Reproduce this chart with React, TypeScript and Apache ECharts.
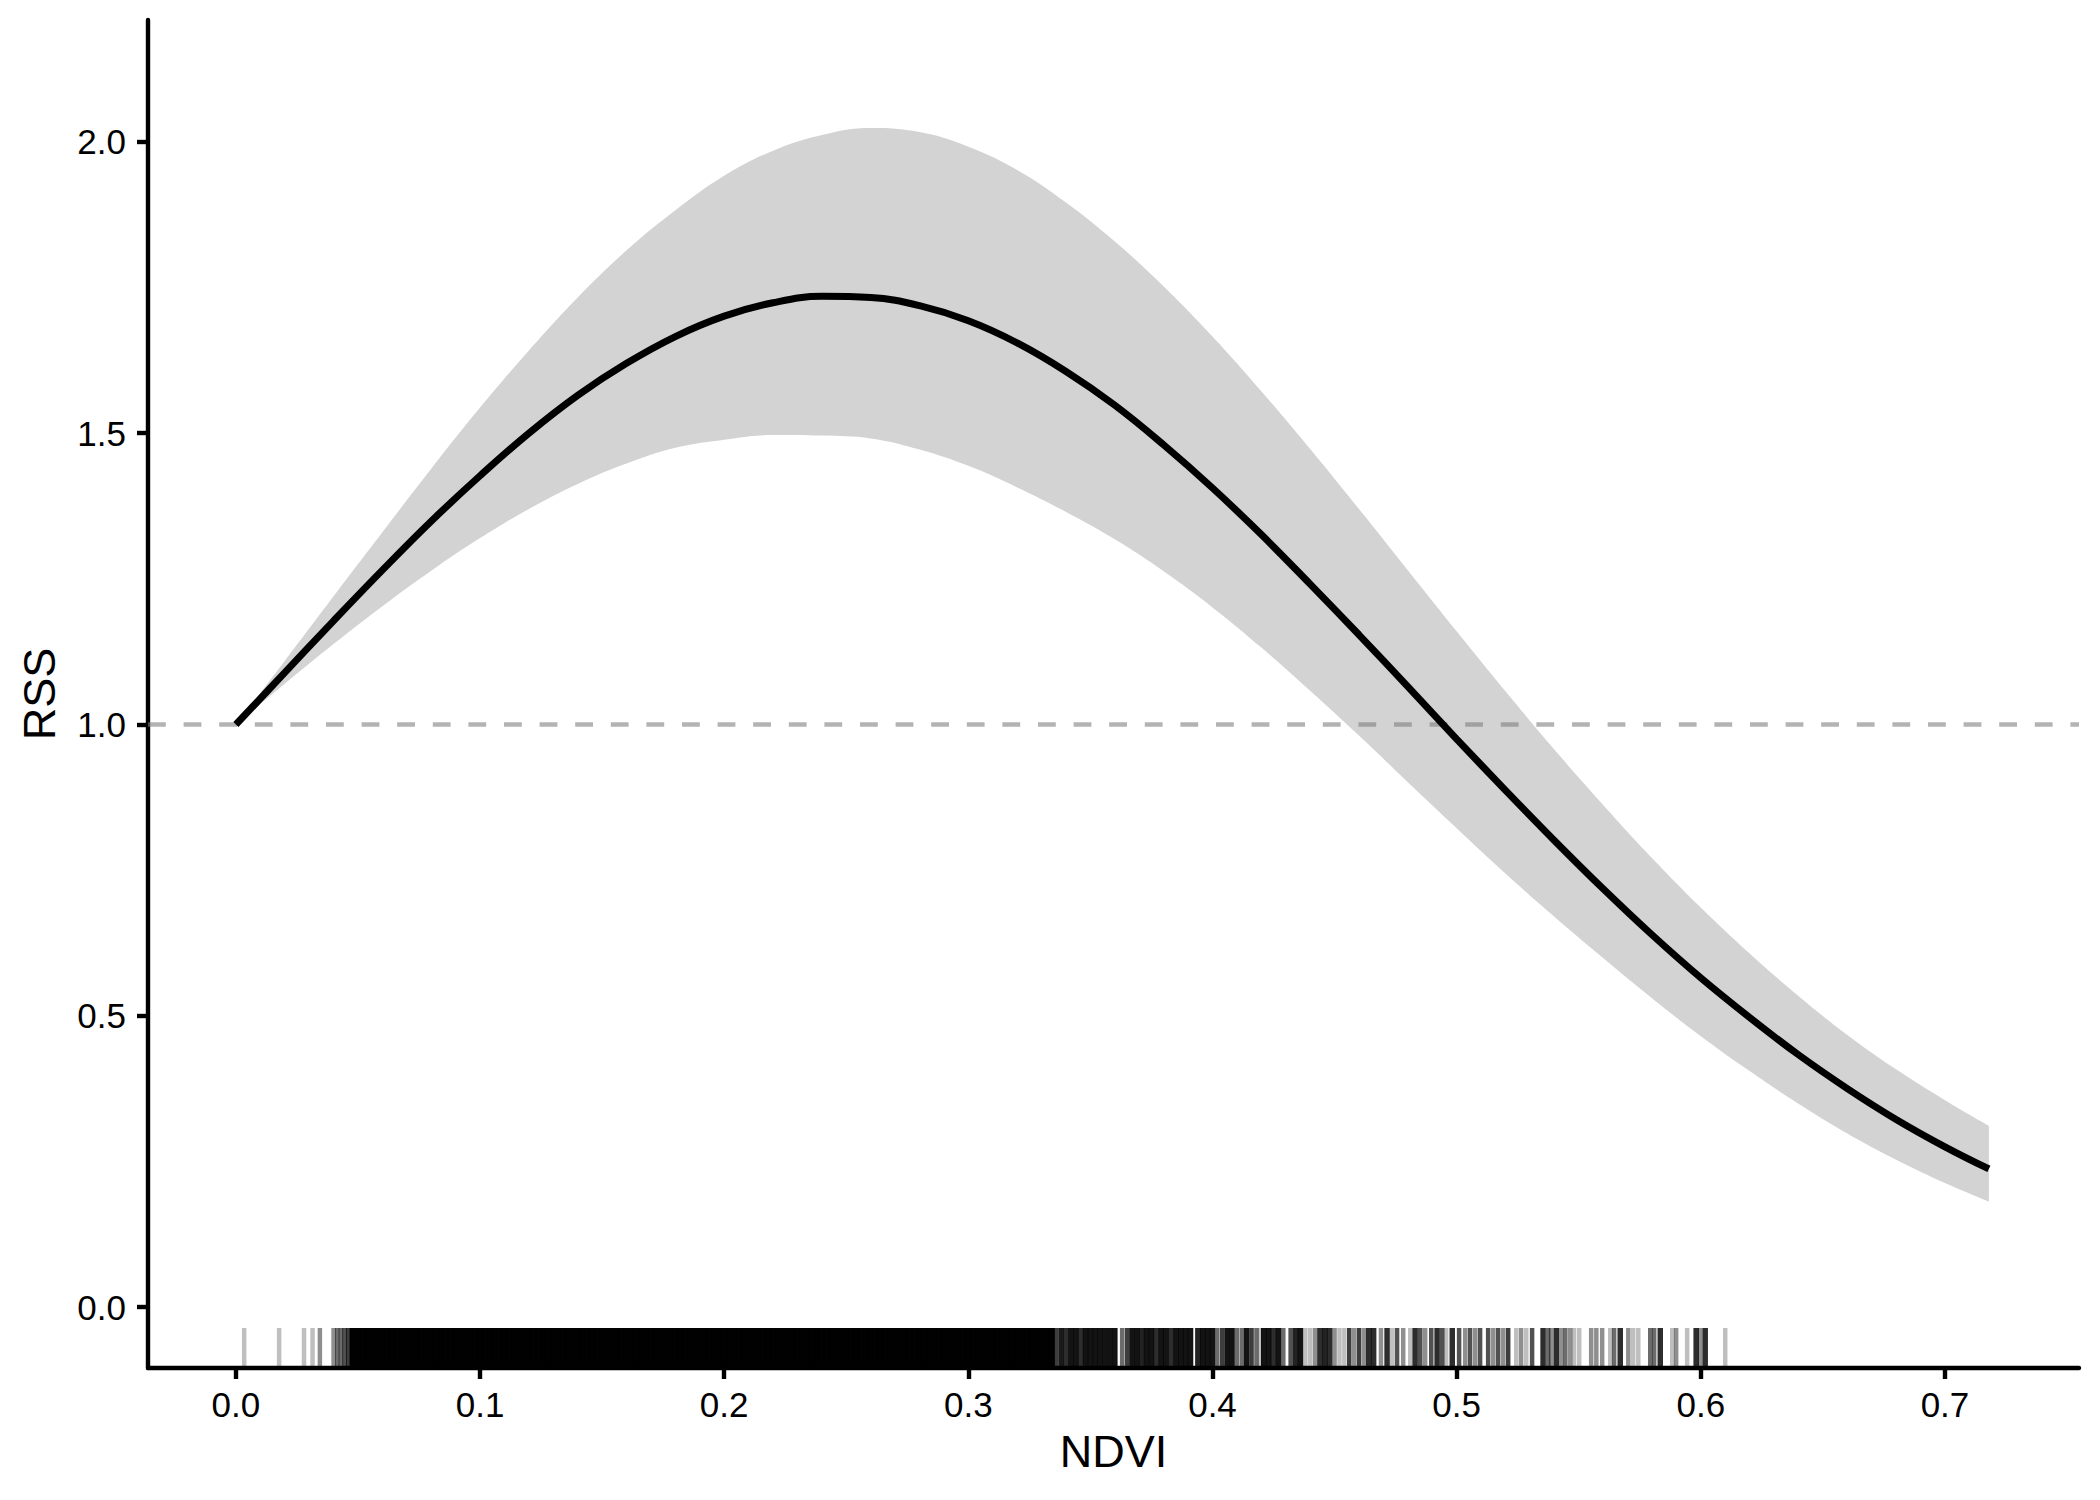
import React, { useEffect, useRef } from "react";
import * as echarts from "echarts";

// ---- data ----
const ndvi = [0, 0.02, 0.04, 0.06, 0.08, 0.1, 0.12, 0.14, 0.16, 0.18, 0.2, 0.22, 0.24, 0.26, 0.28, 0.3, 0.32, 0.34, 0.36, 0.38, 0.4, 0.42, 0.44, 0.46, 0.48, 0.5, 0.52, 0.54, 0.56, 0.58, 0.6, 0.62, 0.64, 0.66, 0.68, 0.7, 0.718];
const rssMean = [1.0, 1.089, 1.178, 1.265, 1.349, 1.427, 1.5, 1.565, 1.62, 1.666, 1.701, 1.724, 1.735, 1.733, 1.719, 1.693, 1.655, 1.606, 1.548, 1.48, 1.406, 1.326, 1.241, 1.154, 1.065, 0.975, 0.887, 0.801, 0.718, 0.639, 0.565, 0.497, 0.433, 0.375, 0.322, 0.275, 0.237];
const rssUpper = [1.0, 1.109, 1.22, 1.33, 1.439, 1.544, 1.642, 1.733, 1.814, 1.883, 1.942, 1.985, 2.012, 2.024, 2.017, 1.992, 1.952, 1.896, 1.829, 1.752, 1.666, 1.572, 1.473, 1.37, 1.265, 1.16, 1.057, 0.957, 0.862, 0.771, 0.686, 0.607, 0.534, 0.467, 0.408, 0.355, 0.311];
const rssLower = [1.0, 1.07, 1.138, 1.203, 1.264, 1.32, 1.37, 1.413, 1.448, 1.475, 1.489, 1.497, 1.496, 1.491, 1.472, 1.444, 1.407, 1.365, 1.318, 1.263, 1.201, 1.132, 1.058, 0.981, 0.901, 0.822, 0.744, 0.67, 0.599, 0.53, 0.465, 0.405, 0.349, 0.298, 0.253, 0.213, 0.181];
const referenceRss = 1;

const xTicks = [0, 0.1, 0.2, 0.3, 0.4, 0.5, 0.6, 0.7];
const yTicks = [0, 0.5, 1, 1.5, 2];
const xTitle = "NDVI";
const yTitle = "RSS";

// rug: observed NDVI values (thousandths) -- saturated part, then [value, overlap count]
const rugDenseMilli = [48, 50, 52, 54, 56, 58, 60, 62, 64, 66, 68, 70, 72, 74, 76, 78, 80, 82, 84, 86, 88, 90, 92, 94, 96, 98, 100, 102, 104, 106, 108, 110, 112, 114, 116, 118, 120, 122, 124, 126, 128, 130, 132, 134, 136, 138, 140, 142, 144, 146, 148, 150, 152, 154, 156, 158, 160, 162, 164, 166, 168, 170, 172, 174, 176, 178, 180, 182, 184, 186, 188, 190, 192, 194, 196, 198, 200, 202, 204, 206, 208, 210, 212, 214, 216, 218, 220, 222, 224, 226, 228, 230, 232, 234, 236, 238, 240, 242, 244, 246, 248, 250, 252, 254, 256, 258, 260, 262, 264, 266, 268, 270, 272, 274, 276, 278, 280, 282, 284, 286, 288, 290, 292, 294, 296, 298, 300, 302, 304, 306, 308, 310, 312, 314, 316, 318, 320, 322, 324, 326, 328, 330, 332, 334];
const rugSparseMilli: [number, number][] = [
  [3.4, 1], [17.7, 1], [27.9, 1], [31.4, 1], [34.4, 2], [40, 2], [41.5, 3], [43, 3], [44.5, 4], [46, 5],
  [336, 5], [338, 8], [340, 6], [342, 9], [344, 9], [346, 6], [348, 9], [350, 9], [352, 9], [354, 9], [356, 9], [358, 9], [360, 9], [363, 3], [365, 5], [367, 9], [369, 9], [371, 7], [373, 9], [375, 9], [377, 6], [379, 9], [381, 9], [383, 6], [385, 9], [387, 9], [389, 9], [391, 9], [394, 7], [396, 9], [398, 9], [400, 9], [402, 3], [404, 5], [406, 9], [408, 9], [410, 3], [412, 3], [414, 9], [416, 5], [418, 3], [419.5, 1], [421, 9], [423, 9], [425, 6], [427, 9], [429, 3], [432, 4], [434, 7], [436, 9], [438, 1], [440, 1], [442, 2], [444, 6], [446, 7], [448, 6], [450, 2], [452, 1], [454, 1], [456, 5], [458, 2], [460, 5], [462, 2], [464, 6], [466, 6], [469, 2],
  [471.5, 6], [473.6, 1], [475.6, 4], [478.1, 2], [481, 1], [483, 6], [485.1, 4], [487.1, 2], [489.6, 4], [492, 6], [494.1, 4], [495.7, 1], [498.2, 6], [501, 4], [503.5, 2], [505.5, 4], [507.6, 2], [509.6, 4], [512.9, 4], [515, 2], [517, 4], [519.1, 2], [521.1, 5], [524.4, 1], [526.4, 2], [528.5, 1], [530.9, 4], [535.4, 6], [537.5, 3], [538.7, 2], [540.8, 6], [542.8, 2], [544.5, 3], [546.5, 2], [548.1, 1], [550.2, 1], [555.1, 2], [557.2, 2], [559.6, 2], [562.9, 1], [564.5, 3], [567, 6], [570.3, 2], [572.3, 1], [574.4, 1], [579.3, 3], [580.9, 3], [583.4, 6], [588.3, 1], [589.9, 2], [594.4, 1], [598.1, 6], [599.8, 2], [601.8, 6], [610, 1],
];

const X_MIN = -0.036;
const X_MAX = 0.7549;
const Y_MIN = -0.1047;
const Y_MAX = 2.2094;

const FONT = "'Liberation Sans', Arial, Helvetica, sans-serif";

export default function App() {
  const ref = useRef<HTMLDivElement>(null);

  useEffect(() => {
    document.body.style.margin = "0";
    if (!ref.current) return;
    const chart = echarts.init(ref.current, undefined, { renderer: "svg" });

    // rows are [rss, ndvi] so that stacking happens on the RSS (y) dimension
    const meanData = ndvi.map((x, i) => [rssMean[i], x]);
    const lowerData = ndvi.map((x, i) => [rssLower[i], x]);
    const bandData = ndvi.map((x, i) => [rssUpper[i] - rssLower[i], x]);
    const rugData = [
      ...rugDenseMilli.map((v) => [v / 1000, 20]),
      ...rugSparseMilli.map(([v, n]) => [v / 1000, n]),
    ];

    const axisCommon = {
      type: "value" as const,
      axisLine: { show: true, onZero: false, lineStyle: { color: "#000", width: 4.4 } },
      axisTick: { show: true, length: 11, lineStyle: { color: "#000", width: 4.4 } },
      splitLine: { show: false },
      nameLocation: "middle" as const,
      nameTextStyle: { fontSize: 45, color: "#000", fontFamily: FONT },
    };

    const curveCommon = {
      type: "line" as const,
      silent: true,
      symbol: "none",
      smooth: 0.4,
      encode: { x: 1, y: 0 },
    };

    chart.setOption({
      animation: false,
      backgroundColor: "#ffffff",
      grid: { left: 148, top: 20, width: 1931, height: 1348, containLabel: false, outerBoundsMode: "none" },
      xAxis: {
        ...axisCommon,
        min: X_MIN,
        max: X_MAX,
        axisTick: { ...axisCommon.axisTick, customValues: xTicks },
        axisLabel: {
          customValues: xTicks,
          formatter: (v: number) => v.toFixed(1),
          fontSize: 35,
          color: "#000",
          fontFamily: FONT,
          margin: 19,
        },
        name: xTitle,
        nameGap: 61,
      },
      yAxis: {
        ...axisCommon,
        min: Y_MIN,
        max: Y_MAX,
        axisTick: { ...axisCommon.axisTick, customValues: yTicks },
        axisLabel: {
          customValues: yTicks,
          formatter: (v: number) => v.toFixed(1),
          fontSize: 35,
          color: "#000",
          fontFamily: FONT,
          margin: 22,
        },
        name: yTitle,
        nameGap: 86,
      },
      series: [
        {
          ...curveCommon,
          name: "lower",
          z: 1,
          stack: "ci",
          stackStrategy: "all",
          data: lowerData,
          lineStyle: { width: 0, opacity: 0 },
        },
        {
          ...curveCommon,
          name: "band",
          z: 1,
          stack: "ci",
          stackStrategy: "all",
          data: bandData,
          lineStyle: { width: 0, opacity: 0 },
          areaStyle: { color: "#d3d3d3", opacity: 1 },
        },
        {
          type: "line",
          name: "reference",
          z: 2,
          silent: true,
          symbol: "none",
          data: [[X_MIN, referenceRss], [X_MAX, referenceRss]],
          lineStyle: { color: "rgba(128,128,128,0.6)", width: 4.4, type: [17.8, 17.8] },
        },
        {
          type: "custom",
          name: "rug",
          z: 2,
          silent: true,
          data: rugData,
          renderItem: (params: any, api: any) => {
            const x = api.value(0);
            const n = api.value(1);
            const p = api.coord([x, 0]);
            const cs = params.coordSys;
            const bottom = cs.y + cs.height;
            return {
              type: "line",
              shape: { x1: p[0], y1: bottom, x2: p[0], y2: bottom - 40 },
              style: {
                stroke: "#000",
                lineWidth: n >= 20 ? 7 : n >= 6 ? 5.5 : 4.5,
                opacity: 1 - Math.pow(0.75, n),
              },
            };
          },
        },
        {
          ...curveCommon,
          name: "RSS",
          z: 3,
          data: meanData,
          lineStyle: { color: "#000", width: 7 },
        },
      ],
    });

    return () => chart.dispose();
  }, []);

  return <div ref={ref} style={{ width: 2100, height: 1500 }} />;
}
